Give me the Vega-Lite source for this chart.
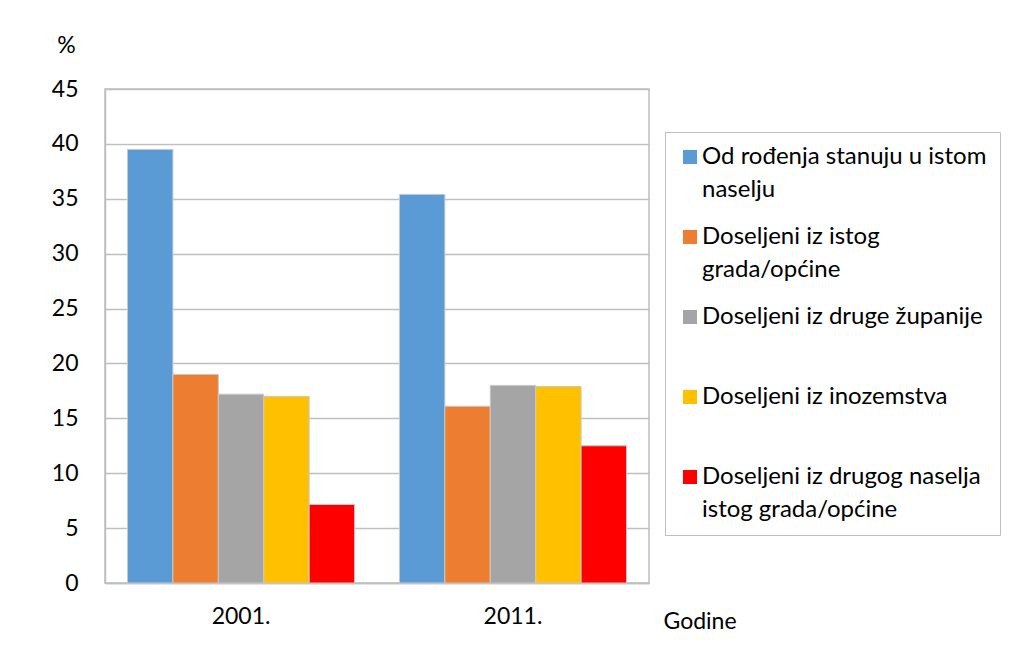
{
  "$schema": "https://vega.github.io/schema/vega-lite/v6.json",
  "width": 544,
  "height": 494,
  "autosize": {"type": "none"},
  "padding": {"left": 105, "top": 89, "right": 362, "bottom": 67},
  "background": "white",
  "config": {
    "font": "Lato",
    "view": {"stroke": "#bfbfbf", "strokeWidth": 1.5},
    "style": {"guide-label": {"lineHeight": 33}}
  },
  "data": {
    "values": [
      {"godina": "2001.", "kategorija": "Od rođenja stanuju u istom|naselju", "red": 1, "vrijednost": 39.5},
      {"godina": "2001.", "kategorija": "Doseljeni iz istog|grada/općine", "red": 2, "vrijednost": 19.0},
      {"godina": "2001.", "kategorija": "Doseljeni iz druge županije", "red": 3, "vrijednost": 17.2},
      {"godina": "2001.", "kategorija": "Doseljeni iz inozemstva", "red": 4, "vrijednost": 17.0},
      {"godina": "2001.", "kategorija": "Doseljeni iz drugog naselja|istog grada/općine", "red": 5, "vrijednost": 7.15},
      {"godina": "2011.", "kategorija": "Od rođenja stanuju u istom|naselju", "red": 1, "vrijednost": 35.4},
      {"godina": "2011.", "kategorija": "Doseljeni iz istog|grada/općine", "red": 2, "vrijednost": 16.1},
      {"godina": "2011.", "kategorija": "Doseljeni iz druge županije", "red": 3, "vrijednost": 18.0},
      {"godina": "2011.", "kategorija": "Doseljeni iz inozemstva", "red": 4, "vrijednost": 17.9},
      {"godina": "2011.", "kategorija": "Doseljeni iz drugog naselja|istog grada/općine", "red": 5, "vrijednost": 12.5}
    ]
  },
  "mark": {"type": "bar", "stroke": "#c8c8c8", "strokeWidth": 1},
  "encoding": {
    "x": {
      "field": "godina",
      "type": "nominal",
      "scale": {"paddingInner": 0.165, "paddingOuter": 0.0827},
      "axis": {
        "title": "Godine",
        "titleX": 558,
        "titleY": 38,
        "titleAlign": "left",
        "titleBaseline": "middle",
        "titleFontSize": 23,
        "titleFontWeight": "normal",
        "titleColor": "#000000",
        "labelAngle": 0,
        "labelFontSize": 23,
        "labelColor": "#000000",
        "labelPadding": 22,
        "ticks": false,
        "domainColor": "#bfbfbf",
        "domainWidth": 1.5
      }
    },
    "xOffset": {
      "field": "kategorija",
      "type": "nominal",
      "sort": {"field": "red"},
      "scale": {"paddingInner": 0, "paddingOuter": 0}
    },
    "y": {
      "field": "vrijednost",
      "type": "quantitative",
      "scale": {"domain": [0, 45], "nice": false},
      "axis": {
        "values": [0, 5, 10, 15, 20, 25, 30, 35, 40, 45],
        "title": "%",
        "titleAngle": 0,
        "titleX": -39,
        "titleY": -44,
        "titleAlign": "center",
        "titleBaseline": "middle",
        "titleFontSize": 23,
        "titleFontWeight": "normal",
        "titleColor": "#000000",
        "labelFontSize": 23,
        "labelColor": "#000000",
        "labelPadding": 27,
        "ticks": false,
        "domainColor": "#bfbfbf",
        "domainWidth": 1.5,
        "gridColor": "#bfbfbf",
        "gridWidth": 1.5
      }
    },
    "color": {
      "field": "kategorija",
      "type": "nominal",
      "sort": {"field": "red"},
      "scale": {
        "domain": ["Od rođenja stanuju u istom|naselju", "Doseljeni iz istog|grada/općine", "Doseljeni iz druge županije", "Doseljeni iz inozemstva", "Doseljeni iz drugog naselja|istog grada/općine"],
        "range": ["#5b9bd5", "#ed7d31", "#a5a5a5", "#ffc000", "#ff0000"]
      },
      "legend": {
        "title": null,
        "orient": "none",
        "legendX": 560,
        "legendY": 43,
        "columns": 1,
        "gridAlign": "all",
        "strokeColor": "#bfbfbf",
        "padding": 13,
        "symbolType": "square",
        "symbolSize": 196,
        "symbolStrokeWidth": 0,
        "labelExpr": "split(datum.label, '|')",
        "labelFontSize": 24,
        "labelColor": "#000000",
        "labelLimit": 400,
        "labelOffset": 0,
        "rowPadding": 23
      }
    }
  }
}
